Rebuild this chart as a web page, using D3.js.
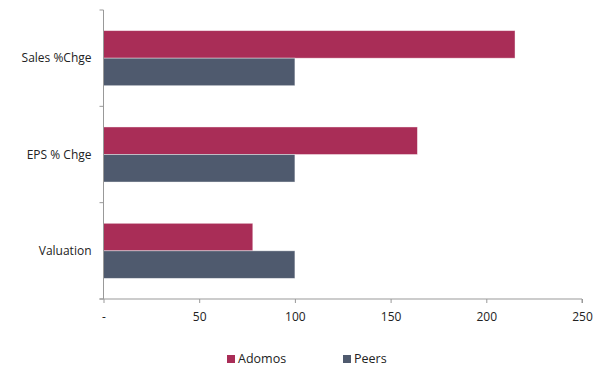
<!DOCTYPE html>
<html>
<head>
<meta charset="utf-8">
<script src="https://cdn.jsdelivr.net/npm/d3@7"></script>
<style>
  body { margin: 0; background: #fff; }
  text { font-family: "Open Sans", "Liberation Sans", sans-serif; fill: #222; }
</style>
</head>
<body>
<div id="chart"></div>
<script>
var width = 601, height = 372;

var categories = ["Sales %Chge", "EPS % Chge", "Valuation"];
var seriesNames = ["Adomos", "Peers"];
var adomos = [215, 164, 78];
var peers = [100, 100, 100];
var xTicks = [0, 50, 100, 150, 200, 250];
var colours = ["#A92D57", "#4F5A6E"];

var plot = { left: 103.5, right: 582, top: 10, bottom: 299 };

var svg = d3.select("#chart").append("svg")
  .attr("width", width)
  .attr("height", height);

var x = d3.scaleLinear().domain([0, 250]).range([plot.left, plot.right]);
var y0 = d3.scaleBand().domain(categories).range([plot.top, plot.bottom]).padding(0);
var y1 = d3.scaleBand().domain(seriesNames).range([0, y0.bandwidth()])
  .paddingInner(0).paddingOuter(0.75);

var rows = categories.map(function(c, i) {
  return { cat: c, vals: [adomos[i], peers[i]] };
});

var groups = svg.append("g").selectAll("g")
  .data(rows)
  .enter().append("g")
  .attr("transform", function(d) { return "translate(0," + y0(d.cat) + ")"; });

groups.selectAll("rect")
  .data(function(d) { return d.vals.map(function(v, i) { return { s: seriesNames[i], v: v, i: i }; }); })
  .enter().append("rect")
  .attr("x", x(0))
  .attr("y", function(d) { return y1(d.s); })
  .attr("width", function(d) { return x(d.v) - x(0); })
  .attr("height", y1.bandwidth())
  .attr("fill", function(d) { return colours[d.i]; })
  .attr("stroke", "rgba(255,255,255,0.5)")
  .attr("stroke-width", 0.8);

// x axis
var xAxis = svg.append("g")
  .attr("transform", "translate(0," + plot.bottom + ")")
  .call(d3.axisBottom(x).tickValues(xTicks).tickSize(4).tickPadding(9)
    .tickFormat(function(d) { return d === 0 ? "-" : d; }));
xAxis.select(".domain").attr("stroke", "#999").attr("d", "M" + (plot.left - 4) + ",0H" + plot.right + "V4");
xAxis.selectAll(".tick line").attr("stroke", "#999");
xAxis.selectAll("text").style("font-size", "12px").attr("fill", "#222");

// y axis
var yTickPos = categories.map(function(c) { return y0(c); }).concat([plot.bottom]);
var yAxis = svg.append("g");
yAxis.append("line")
  .attr("x1", plot.left).attr("x2", plot.left)
  .attr("y1", plot.top).attr("y2", plot.bottom)
  .attr("stroke", "#999");
yAxis.selectAll("line.tk")
  .data(yTickPos)
  .enter().append("line")
  .attr("class", "tk")
  .attr("x1", plot.left - 4).attr("x2", plot.left)
  .attr("y1", function(d) { return d; }).attr("y2", function(d) { return d; })
  .attr("stroke", "#999");
yAxis.selectAll("text")
  .data(categories)
  .enter().append("text")
  .attr("x", plot.left - 12)
  .attr("y", function(d) { return y0(d) + y0.bandwidth() / 2; })
  .attr("dy", "0.35em")
  .attr("text-anchor", "end")
  .style("font-size", "12px")
  .text(function(d) { return d; });

// legend
var legendX = [227, 343];
var legend = svg.append("g").selectAll("g")
  .data(seriesNames)
  .enter().append("g")
  .attr("transform", function(d, i) { return "translate(" + legendX[i] + ",355)"; });
legend.append("rect")
  .attr("width", 8).attr("height", 8)
  .attr("fill", function(d, i) { return colours[i]; });
legend.append("text")
  .attr("x", 11).attr("y", 4)
  .attr("dy", "0.35em")
  .style("font-size", "12.5px")
  .text(function(d) { return d; });
</script>
</body>
</html>
